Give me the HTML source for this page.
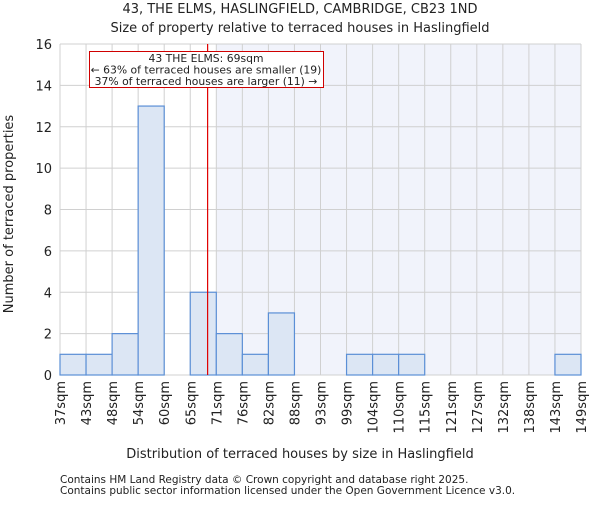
<!DOCTYPE html>
<html><head><meta charset="utf-8"><style>
body{margin:0;background:#fff;}
svg text{font-family:"DejaVu Sans","Liberation Sans",sans-serif;fill:#222;}
</style></head><body>
<svg id="c" width="600" height="500" xmlns="http://www.w3.org/2000/svg"></svg>
<script>
const categories=["37sqm","43sqm","48sqm","54sqm","60sqm","65sqm","71sqm","76sqm","82sqm","88sqm","93sqm","99sqm","104sqm","110sqm","115sqm","121sqm","127sqm","132sqm","138sqm","143sqm","149sqm"];
const counts=[1,1,2,13,0,4,2,1,3,0,0,1,1,1,0,0,0,0,0,1];
const yTicks=[0,2,4,6,8,10,12,14,16];
const markerValue=69;
const binEdges=[37,43,48,54,60,65,71,76,82,88,93,99,104,110,115,121,127,132,138,143,149];
const L=60,R=581,T=44,B=375,yMax=16;
const bw=(R-L)/counts.length;
const x=i=>L+i*bw;
const y=v=>B-(v/yMax)*(B-T);
const svg=document.getElementById('c');
const NS='http://www.w3.org/2000/svg';
function mk(tag,attrs,parent){const e=document.createElementNS(NS,tag);for(const k in attrs)e.setAttribute(k,attrs[k]);(parent||svg).appendChild(e);return e;}
function xv(v){let i=0;while(i<binEdges.length-2&&v>binEdges[i+1])i++;return x(i)+(v-binEdges[i])/(binEdges[i+1]-binEdges[i])*bw;}
let si=0;while(si<binEdges.length-1&&binEdges[si]<markerValue)si++;
let sh=mk('rect',{x:x(si),y:T,width:R-x(si),height:B-T,fill:'#f1f3fb'});


for(const t of yTicks){let g=mk('line',{x1:L,x2:R,y1:y(t),y2:y(t),stroke:'#d0d0d0','stroke-width':1});

}
for(let i=0;i<=counts.length;i++){let g=mk('line',{x1:x(i),x2:x(i),y1:T,y2:B,stroke:'#d0d0d0','stroke-width':1});

}
counts.forEach((c,i)=>{if(c<=0)return;let r=mk('rect',{x:x(i),y:y(c),width:bw,height:B-y(c),fill:'#dce6f4',stroke:'#5b8fd6','stroke-width':1.2});

});
let ml=mk('line',{x1:xv(markerValue),x2:xv(markerValue),y1:T,y2:B,stroke:'#e00000','stroke-width':1.2});


for(const t of yTicks){let tx=mk('text',{x:L-8,y:y(t)+5,'text-anchor':'end','font-size':13});tx.textContent=t;

}
categories.forEach((c,i)=>{let tx=mk('text',{transform:`translate(${x(i)+5},381) rotate(-90)`,'text-anchor':'end','font-size':13});tx.textContent=c;

});
</script>
<svg style="position:absolute;left:0;top:0" width="600" height="500" xmlns="http://www.w3.org/2000/svg">
<g>
<rect x="89.5" y="51.5" width="234" height="36" fill="#fff" stroke="#d00000" stroke-width="1"/>
<text x="206" y="62" text-anchor="middle" font-size="10.8">43 THE ELMS: 69sqm</text>
<text x="206" y="73.5" text-anchor="middle" font-size="10.8">← 63% of terraced houses are smaller (19)</text>
<text x="206" y="85" text-anchor="middle" font-size="10.8">37% of terraced houses are larger (11) →</text>
</g>
<text x="300" y="13" text-anchor="middle" font-size="13">43, THE ELMS, HASLINGFIELD, CAMBRIDGE, CB23 1ND</text>
<text x="300" y="32" text-anchor="middle" font-size="13">Size of property relative to terraced houses in Haslingfield</text>
<text x="300" y="458" text-anchor="middle" font-size="13">Distribution of terraced houses by size in Haslingfield</text>
<text transform="translate(13,214) rotate(-90)" text-anchor="middle" font-size="13">Number of terraced properties</text>
<text x="60" y="483" font-size="10.5" fill="#444">Contains HM Land Registry data © Crown copyright and database right 2025.</text>
<text x="60" y="494" font-size="10.5" fill="#444">Contains public sector information licensed under the Open Government Licence v3.0.</text>
</svg>
</body></html>
